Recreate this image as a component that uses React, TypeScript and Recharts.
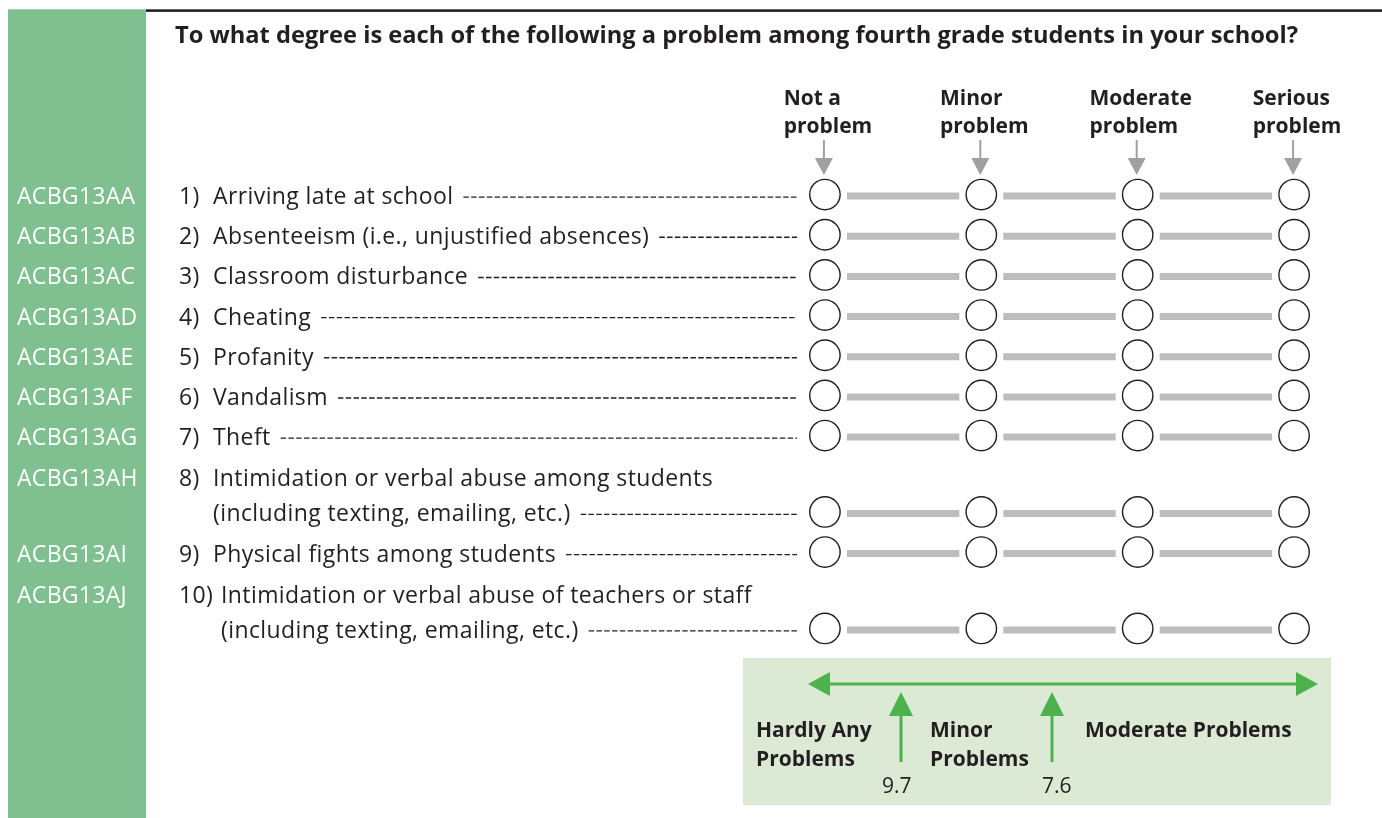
import React from 'react';
import { ScatterChart, Scatter, XAxis, YAxis, Customized } from 'recharts';

// ---------- data ----------
const title = 'To what degree is each of the following a problem among fourth grade students in your school?';
const responseValues = [0, 1, 2, 3];
const responseLabels = [
  ['Not a', 'problem'],
  ['Minor', 'problem'],
  ['Moderate', 'problem'],
  ['Serious', 'problem'],
];
const itemCodes = [
  'ACBG13AA', 'ACBG13AB', 'ACBG13AC', 'ACBG13AD', 'ACBG13AE',
  'ACBG13AF', 'ACBG13AG', 'ACBG13AH', 'ACBG13AI', 'ACBG13AJ',
];
const itemNumbers = ['1)', '2)', '3)', '4)', '5)', '6)', '7)', '8)', '9)', '10)'];
const itemLabels = [
  ['Arriving late at school'],
  ['Absenteeism (i.e., unjustified absences)'],
  ['Classroom disturbance'],
  ['Cheating'],
  ['Profanity'],
  ['Vandalism'],
  ['Theft'],
  ['Intimidation or verbal abuse among students', '(including texting, emailing, etc.)'],
  ['Physical fights among students'],
  ['Intimidation or verbal abuse of teachers or staff', '(including texting, emailing, etc.)'],
];
const scaleRegions = [['Hardly Any', 'Problems'], ['Minor', 'Problems'], ['Moderate Problems']];
const cutScores = ['9.7', '7.6'];

// ---------- layout helpers ----------
const rowPos: number[] = [];
{
  let p = -1;
  itemLabels.forEach((lines) => {
    p = p + 1 + (lines.length - 1) * 0.9;
    rowPos.push(Math.round(p * 100) / 100);
  });
}
const rowSeries = rowPos.map((pos) => responseValues.map((v) => ({ x: v, y: pos })));

const INK = '#231f20';
const FONT = '"Open Sans", "Noto Sans", sans-serif';
const ITEM_FS = 23;
const ITEM_LS = 0.4;
const HEAD_FS = 21;
const GREEN_SIDE = '#80bf8f';
const BOX = '#dcead5';
const GREEN = '#4db24b';
const GRAY_BAR = '#bdbdc0';
const GRAY_ARROW = '#a0a0a3';

let ctx: CanvasRenderingContext2D | null = null;
function measure(text: string, font: string, spacing: number): number {
  if (!ctx) ctx = document.createElement('canvas').getContext('2d');
  if (!ctx) return text.length * 10;
  ctx.font = font;
  return ctx.measureText(text).width + text.length * spacing;
}

const HeaderTick = (props: any) => {
  const { x, index } = props;
  const lines = responseLabels[index] || [];
  const ax = x - 1;
  const blockW = Math.max(...lines.map((l) => measure(l, `700 ${HEAD_FS}px ${FONT}`, 0)));
  const left = x + 3 - blockW / 2;
  return (
    <g>
      {lines.map((l, k) => (
        <text key={k} x={left} y={97 + k * 28} fontFamily={FONT} fontWeight={700} fontSize={HEAD_FS} fill={INK}>
          {l}
        </text>
      ))}
      <line x1={ax} x2={ax} y1={132} y2={151} stroke={GRAY_ARROW} strokeWidth={2} />
      <polygon points={`${ax - 9},150 ${ax + 9},150 ${ax},167`} fill={GRAY_ARROW} />
    </g>
  );
};

const ItemTick = (props: any) => {
  const { y, index } = props;
  const lines = itemLabels[index];
  if (!lines) return null;
  const num = itemNumbers[index];
  const labelX = 205 + (num.length - 2) * 8;
  const firstY = y - (lines.length - 1) * 35;
  const lastW = measure(lines[lines.length - 1], `${ITEM_FS}px ${FONT}`, ITEM_LS);
  return (
    <g>
      <text x={9} y={firstY + 8} fill="#ffffff" fontFamily={FONT} fontSize={23} letterSpacing={0.3}>
        {itemCodes[index]}
      </text>
      <text x={171} y={firstY + 8} fill={INK} fontFamily={FONT} fontSize={ITEM_FS} letterSpacing={ITEM_LS}>
        {num}
      </text>
      {lines.map((l, k) => (
        <text
          key={k}
          x={labelX}
          y={firstY + k * 35 + 8}
          fill={INK}
          fontFamily={FONT}
          fontSize={ITEM_FS}
          letterSpacing={ITEM_LS}
        >
          {l}
        </text>
      ))}
      <line
        x1={labelX + lastW + 10}
        x2={789}
        y1={y + 1}
        y2={y + 1}
        stroke={INK}
        strokeWidth={1.4}
        strokeDasharray="5.5 2.3"
      />
    </g>
  );
};

const Bubble = (props: any) => {
  const { cx, cy } = props;
  if (cx == null || cy == null) return null;
  const c = cy - 1.5;
  return (
    <g>
      <rect x={cx - 22} y={cy - 6} width={44} height={12} fill="#ffffff" />
      <circle cx={cx} cy={c} r={15.2} fill="#ffffff" stroke={INK} strokeWidth={1.4} />
    </g>
  );
};

const Frame = () => (
  <g>
    <rect x={0} y={1.3} width={138} height={812} fill={GREEN_SIDE} />
    <rect x={138} y={1.3} width={1240} height={2.6} fill={INK} />
    <text x={167} y={35} fontFamily={FONT} fontWeight={700} fontSize={24} fill={INK} textLength={1123} lengthAdjust="spacingAndGlyphs">
      {title}
    </text>
  </g>
);

const ScaleBox = () => {
  const ay = 676;
  const arrowXs = [893, 1044];
  const numberX = [874, 1034];
  const regionX = [748, 922, 1077];
  return (
    <g>
      <rect x={735} y={650} width={588} height={147} fill={BOX} />
      <line x1={818} x2={1292} y1={ay} y2={ay} stroke={GREEN} strokeWidth={3} />
      <polygon points={`800,${ay} 822,${ay - 12} 822,${ay + 12}`} fill={GREEN} />
      <polygon points={`1310,${ay} 1288,${ay - 12} 1288,${ay + 12}`} fill={GREEN} />
      {arrowXs.map((x, i) => (
        <g key={i}>
          <line x1={x} x2={x} y1={705} y2={754} stroke={GREEN} strokeWidth={3} />
          <polygon points={`${x - 12},708 ${x + 12},708 ${x},684`} fill={GREEN} />
          <text x={numberX[i]} y={785} fontFamily={FONT} fontSize={21} fill={INK}>
            {cutScores[i]}
          </text>
        </g>
      ))}
      {scaleRegions.map((lines, i) =>
        lines.map((l, k) => (
          <text key={`${i}-${k}`} x={regionX[i]} y={729 + k * 29} fontFamily={FONT} fontWeight={700} fontSize={21} fill={INK}>
            {l}
          </text>
        ))
      )}
    </g>
  );
};

export default function App() {
  return (
    <div style={{ position: 'fixed', top: 8, left: 8, width: 1374, height: 810 }}>
      <ScatterChart width={1374} height={810} margin={{ top: 0, right: 41, bottom: 164, left: 0 }}>
        <Customized component={<Frame />} />
        <Customized component={<ScaleBox />} />
        <XAxis
          type="number"
          dataKey="x"
          orientation="top"
          domain={[-0.3, 3.3]}
          ticks={responseValues}
          interval={0}
          height={164}
          axisLine={false}
          tickLine={false}
          tick={<HeaderTick />}
        />
        <YAxis
          type="number"
          dataKey="y"
          domain={[-0.6, 11.4]}
          reversed
          ticks={rowPos}
          interval={0}
          width={770}
          axisLine={false}
          tickLine={false}
          tick={<ItemTick />}
        />
        {rowSeries.map((data, i) => (
          <Scatter
            key={i}
            data={data}
            line={{ stroke: GRAY_BAR, strokeWidth: 7 }}
            shape={<Bubble />}
            isAnimationActive={false}
          />
        ))}
      </ScatterChart>
    </div>
  );
}
